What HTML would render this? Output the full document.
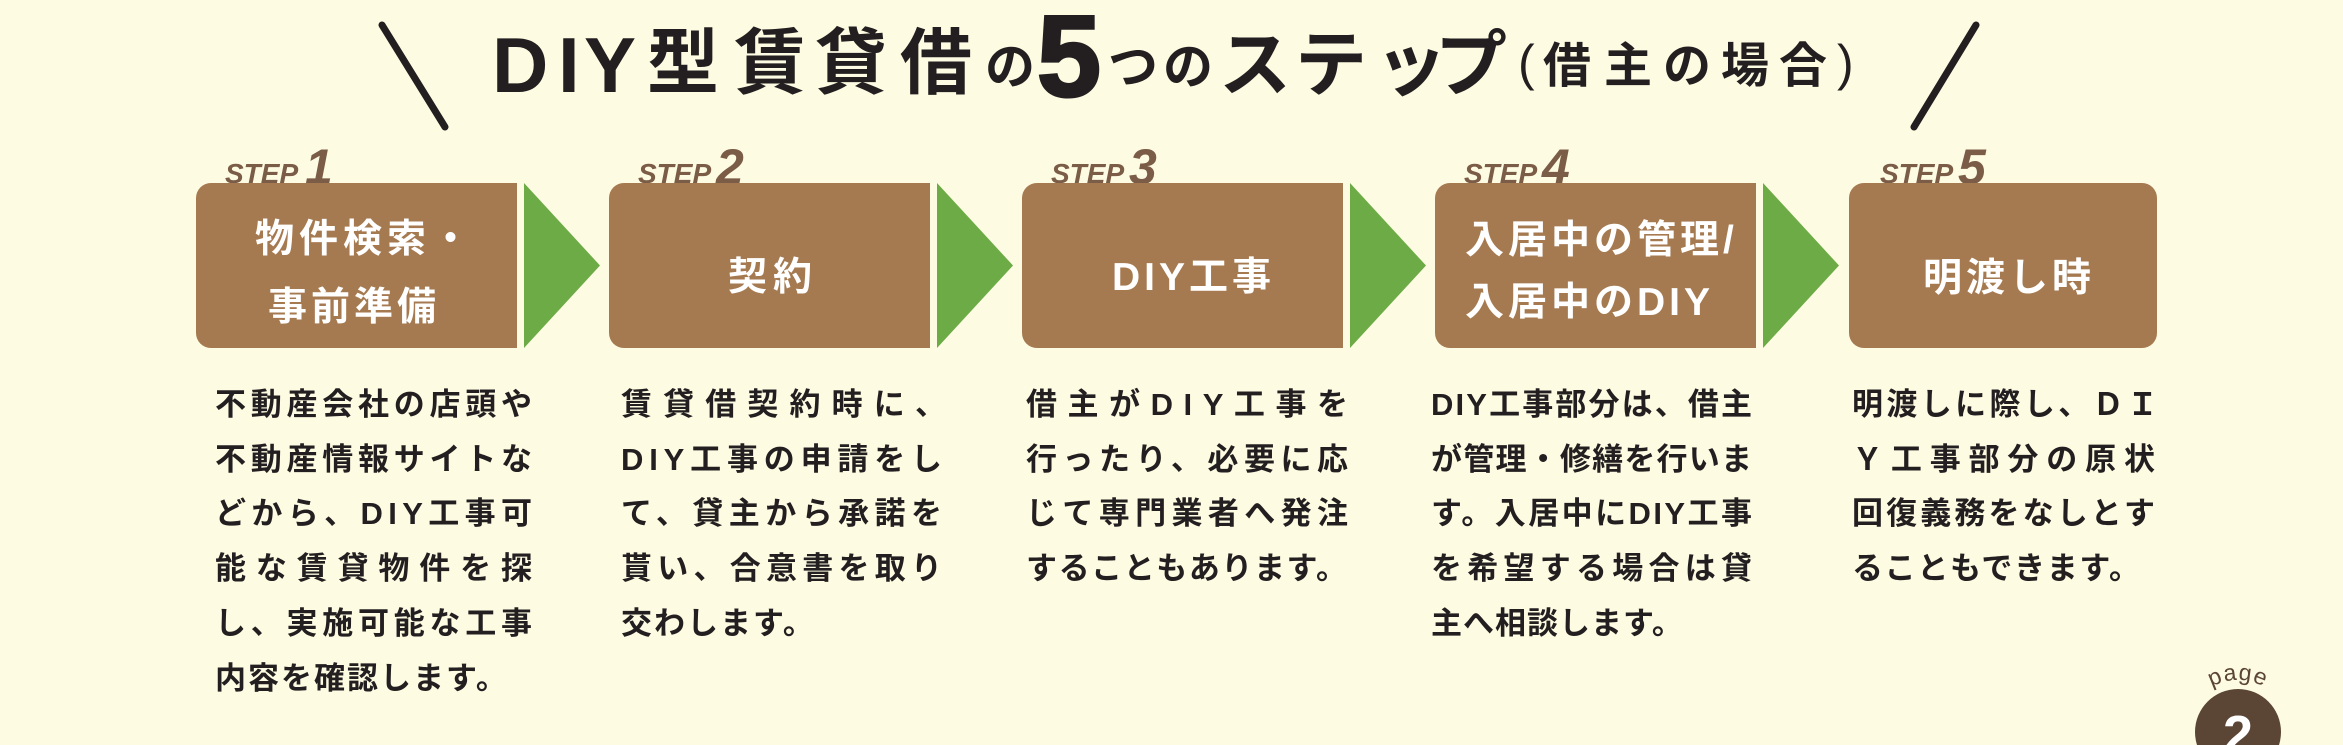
<!DOCTYPE html>
<html>
<head>
<meta charset="utf-8">
<style>
html,body{margin:0;padding:0;background:#fefbe3;}
svg{display:block;}
text{font-family:"Liberation Sans","Noto Sans CJK JP",sans-serif;}
</style>
</head>
<body>
<svg width="2343" height="745" viewBox="0 0 2343 745" xmlns="http://www.w3.org/2000/svg">
<rect x="0" y="0" width="2343" height="745" fill="#fefbe3"/>

<!-- decorative slashes -->
<line x1="382" y1="25" x2="445" y2="127" stroke="#231f20" stroke-width="7" stroke-linecap="round"/>
<line x1="1976" y1="25" x2="1914" y2="127" stroke="#231f20" stroke-width="7" stroke-linecap="round"/>

<!-- title -->
<g fill="#231f20" font-weight="bold">
  <text x="492" y="92" font-size="78">D</text>
  <text x="558" y="92" font-size="78">I</text>
  <text x="584" y="92" font-size="78">Y</text>
  <text x="647" y="88" font-size="72">型</text>
  <text x="734" y="88" font-size="72">賃</text>
  <text x="815" y="88" font-size="72">貸</text>
  <text x="900" y="88" font-size="72">借</text>
  <text x="985" y="84" font-size="50">の</text>
  <text x="1037" y="96" font-size="115" stroke="#231f20" stroke-width="3">5</text>
  <text x="1108" y="84" font-size="50">つ</text>
  <text x="1163" y="84" font-size="50">の</text>
  <text x="1219" y="90" font-size="72">ス</text>
  <text x="1295" y="90" font-size="72">テ</text>
  <text x="1375" y="90" font-size="72">ッ</text>
  <text x="1435" y="90" font-size="72">プ</text>
  <text x="1518" y="80" font-size="50" font-weight="normal">(</text>
  <text x="1543" y="82" font-size="48">借</text>
  <text x="1604" y="82" font-size="48">主</text>
  <text x="1663" y="82" font-size="48">の</text>
  <text x="1721" y="82" font-size="48">場</text>
  <text x="1779" y="82" font-size="48">合</text>
  <text x="1837" y="80" font-size="50" font-weight="normal">)</text>
</g>

<!-- STEP labels -->
<g fill="#7a5c47" font-style="italic">
  <text x="225" y="183" font-size="28" font-weight="bold" letter-spacing="0">STEP</text>
  <text x="305" y="184" font-size="50" font-weight="bold">1</text>
  <text x="638" y="183" font-size="28" font-weight="bold" letter-spacing="0">STEP</text>
  <text x="716" y="184" font-size="50" font-weight="bold">2</text>
  <text x="1051" y="183" font-size="28" font-weight="bold" letter-spacing="0">STEP</text>
  <text x="1129" y="184" font-size="50" font-weight="bold">3</text>
  <text x="1464" y="183" font-size="28" font-weight="bold" letter-spacing="0">STEP</text>
  <text x="1542" y="184" font-size="50" font-weight="bold">4</text>
  <text x="1880" y="183" font-size="28" font-weight="bold" letter-spacing="0">STEP</text>
  <text x="1958" y="184" font-size="50" font-weight="bold">5</text>
</g>

<!-- boxes -->
<g fill="#a67a50">
  <path d="M211,183 H517 V348 H211 A15,15 0 0 1 196,333 V198 A15,15 0 0 1 211,183 Z"/>
  <path d="M624,183 H930 V348 H624 A15,15 0 0 1 609,333 V198 A15,15 0 0 1 624,183 Z"/>
  <path d="M1037,183 H1343 V348 H1037 A15,15 0 0 1 1022,333 V198 A15,15 0 0 1 1037,183 Z"/>
  <path d="M1450,183 H1756 V348 H1450 A15,15 0 0 1 1435,333 V198 A15,15 0 0 1 1450,183 Z"/>
  <rect x="1849" y="183" width="308" height="165" rx="15" ry="15"/>
</g>

<!-- arrows -->
<g fill="#6cab46">
  <polygon points="524,183 600,265.5 524,348"/>
  <polygon points="937,183 1013,265.5 937,348"/>
  <polygon points="1350,183 1426,265.5 1350,348"/>
  <polygon points="1763,183 1839,265.5 1763,348"/>
</g>

<!-- box labels -->
<g fill="#ffffff" font-weight="bold" font-size="39">
  <text x="255" y="252" letter-spacing="5">物件検索・</text>
  <text x="268" y="320" letter-spacing="4">事前準備</text>
  <text x="728" y="290" letter-spacing="6">契約</text>
  <text x="1112" y="290" letter-spacing="4">DIY工事</text>
  <text x="1465" y="253" letter-spacing="4">入居中の管理/</text>
  <text x="1465" y="315" letter-spacing="4">入居中のDIY</text>
  <text x="1923" y="291" letter-spacing="4">明渡し時</text>
</g>

<!-- descriptions -->
<g fill="#231f20" font-weight="bold" font-size="31">
  <!-- step 1 -->
  <text x="215" y="415" textLength="317" lengthAdjust="spacing">不動産会社の店頭や</text>
  <text x="215" y="470" textLength="317" lengthAdjust="spacing">不動産情報サイトな</text>
  <text x="215" y="524" textLength="317" lengthAdjust="spacing">どから、DIY工事可</text>
  <text x="215" y="579" textLength="317" lengthAdjust="spacing">能な賃貸物件を探</text>
  <text x="215" y="634" textLength="317" lengthAdjust="spacing">し、実施可能な工事</text>
  <text x="215" y="689" letter-spacing="2">内容を確認します。</text>
  <!-- step 2 -->
  <text x="621" y="415" textLength="325" lengthAdjust="spacing">賃貸借契約時に、</text>
  <text x="621" y="470" textLength="321" lengthAdjust="spacing">DIY工事の申請をし</text>
  <text x="621" y="524" textLength="321" lengthAdjust="spacing">て、貸主から承諾を</text>
  <text x="621" y="579" textLength="321" lengthAdjust="spacing">貰い、合意書を取り</text>
  <text x="621" y="634" letter-spacing="2">交わします。</text>
  <!-- step 3 -->
  <text x="1026" y="415" textLength="322" lengthAdjust="spacing">借主がDIY工事を</text>
  <text x="1026" y="470" textLength="322" lengthAdjust="spacing">行ったり、必要に応</text>
  <text x="1026" y="524" textLength="322" lengthAdjust="spacing">じて専門業者へ発注</text>
  <text x="1026" y="579" textLength="321" lengthAdjust="spacing">することもあります。</text>
  <!-- step 4 -->
  <text x="1431" y="415" textLength="321" lengthAdjust="spacing">DIY工事部分は、借主</text>
  <text x="1431" y="470" textLength="321" lengthAdjust="spacing">が管理・修繕を行いま</text>
  <text x="1431" y="524" textLength="321" lengthAdjust="spacing">す。入居中にDIY工事</text>
  <text x="1431" y="579" textLength="321" lengthAdjust="spacing">を希望する場合は貸</text>
  <text x="1431" y="634" letter-spacing="1">主へ相談します。</text>
  <!-- step 5 -->
  <text x="1852" y="415" textLength="306" lengthAdjust="spacing">明渡しに際し、ＤＩ</text>
  <text x="1852" y="470" textLength="303" lengthAdjust="spacing">Ｙ工事部分の原状</text>
  <text x="1852" y="524" textLength="303" lengthAdjust="spacing">回復義務をなしとす</text>
  <text x="1852" y="579" textLength="288" lengthAdjust="spacing">ることもできます。</text>
</g>

<!-- page badge -->
<defs>
  <path id="arc" d="M2184,734 A54,54 0 0 1 2292,734"/>
</defs>
<circle cx="2238" cy="732" r="43" fill="#5b4535"/>
<text x="2238" y="753" font-size="54" font-weight="bold" fill="#ffffff" text-anchor="middle">2</text>
<text font-size="23" fill="#5b4535" letter-spacing="1"><textPath href="#arc" startOffset="50%" text-anchor="middle">page</textPath></text>
</svg>
</body>
</html>
